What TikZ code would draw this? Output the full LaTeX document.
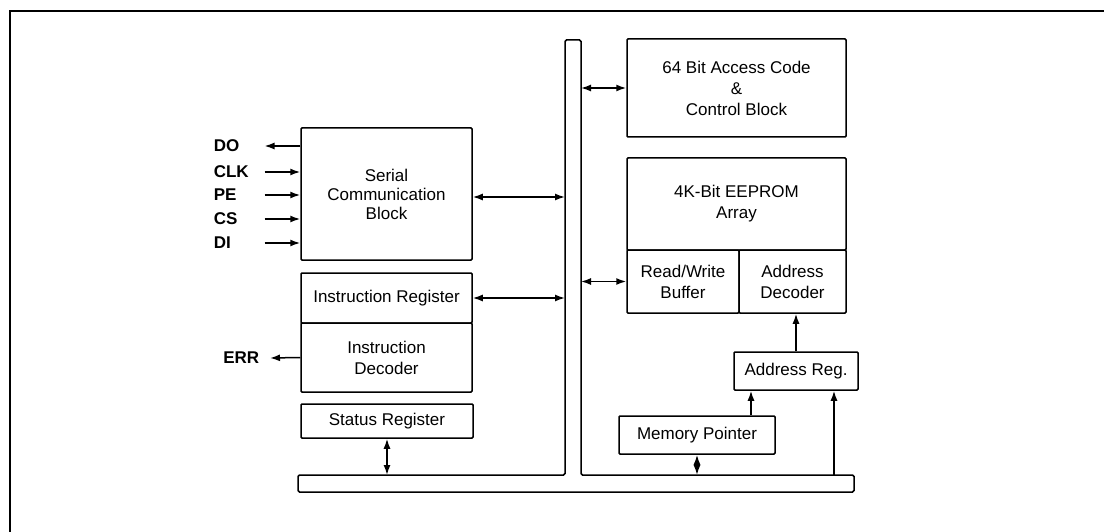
\documentclass[tikz,border=0pt]{standalone}
\usepackage{fontspec}
\setmainfont{Liberation Sans}
\usetikzlibrary{arrows.meta,positioning}

\begin{document}
\begin{tikzpicture}[x=1pt,y=-1pt,>={Latex[length=10pt,width=7pt]},line width=1.5pt,
  blk/.style={draw,rounded corners=1pt,align=center,inner sep=0pt,font=\fontsize{17}{21}\selectfont},
  pin/.style={anchor=west,inner sep=0pt,text width=50pt,align=left,font=\fontsize{17}{21}\selectfont\bfseries}]
  \useasboundingbox (0,0) rectangle (1104,532);

  % Frame (only top and left edges show)
  \draw[line width=1.8pt] (1104,11) -- (10,11) -- (10,532);

  % Internal bus (T shape)
  \draw[rounded corners=1.5pt] (565,40) -- (581,40) -- (581,475) -- (854,475) -- (854,492)
    -- (298,492) -- (298,475) -- (565,475) -- cycle;
  \coordinate (busL) at (565,0);
  \coordinate (busR) at (581,0);
  \coordinate (busT) at (0,475);

  % Left column
  \node[blk,minimum width=171pt,minimum height=132pt,font=\fontsize{17}{19}\selectfont] (serial) at (386.5,194) {Serial\\Communication\\Block};
  \node[blk,minimum width=171pt,minimum height=50pt] (instreg) at (386.5,298) {Instruction Register};
  \node[blk,minimum width=171pt,minimum height=69pt] (instdec) at (386.5,357.5) {Instruction\\Decoder};
  \node[blk,minimum width=172pt,minimum height=34pt] (status) at (387,421) {Status Register};

  % Right column
  \node[blk,minimum width=219pt,minimum height=98pt] (access) at (736.5,88) {64 Bit Access Code\\\&\\Control Block};
  \node[blk,minimum width=219pt,minimum height=92pt] (eeprom) at (736.5,204) {4K-Bit EEPROM\\Array};
  \node[blk,minimum width=112pt,minimum height=63pt] (rwbuf) at (683,281.5) {Read/Write\\Buffer};
  \node[blk,minimum width=107pt,minimum height=63pt] (addrdec) at (792.5,281.5) {Address\\Decoder};
  \node[blk,minimum width=124pt,minimum height=38pt] (addrreg) at (796,371) {Address Reg.};
  \node[blk,minimum width=156pt,minimum height=38pt] (memptr) at (697,435) {Memory Pointer};

  % Pins
  \node[pin] (do) at (213,146) {DO};
  \node[pin] (clk) at (213,172) {CLK};
  \node[pin] (pe) at (213,195) {PE};
  \node[pin] (cs) at (213,219) {CS};
  \node[pin] (di) at (213,243) {DI};
  \node[anchor=east,inner ysep=0pt,inner xsep=10pt,font=\fontsize{17}{21}\selectfont\bfseries] (err) at (270,358) {ERR};

  \draw[->] (serial.west |- do.east) -- (do.east);
  \draw[->] (clk.east) -- (serial.west |- clk.east);
  \draw[->] (pe.east) -- (serial.west |- pe.east);
  \draw[->] (cs.east) -- (serial.west |- cs.east);
  \draw[->] (di.east) -- (serial.west |- di.east);
  \draw[->] (instdec.west) -- (err.east);

  % Bus connections
  \draw[<->] ([yshift=-3pt]serial.east) -- ([yshift=-3pt]serial.east -| busL);
  \draw[<->] (instreg.east) -- (instreg.east -| busL);
  \draw[<->] (status.south) -- (status.south |- busT);
  \draw[<->] (access.west -| busR) -- (access.west);
  \draw[<->] (rwbuf.west -| busR) -- (rwbuf.west);
  \draw[<->] (memptr.south) -- (memptr.south |- busT);

  % Address path
  \draw[->] ([xshift=54pt]memptr.north) -- ([xshift=54pt]memptr.north |- addrreg.south);
  \draw[->] ([xshift=38pt]addrreg.south |- busT) -- ([xshift=38pt]addrreg.south);
  \draw[->] (addrreg.north) -- (addrreg.north |- addrdec.south);
\end{tikzpicture}
\end{document}
